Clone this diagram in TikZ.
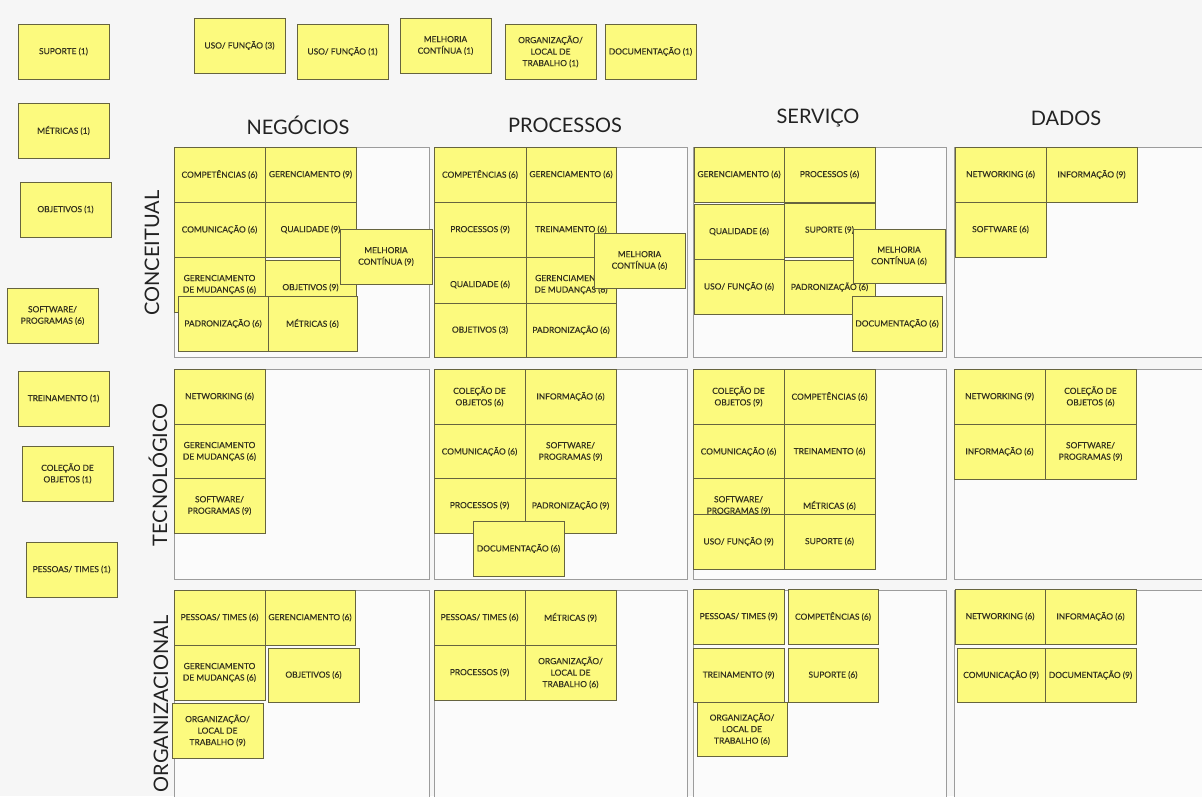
\documentclass[tikz,border=0pt]{standalone}
\usepackage{fontspec}
\setmainfont{Lato}
\newfontfamily\stickyfont{Lato}[FakeBold=0.35]
\definecolor{pagebg}{HTML}{F6F6F6}
\definecolor{cellfill}{HTML}{FBFBFB}
\definecolor{celledge}{HTML}{9C9C9C}
\definecolor{stickyfill}{HTML}{FCFA7E}
\definecolor{stickyedge}{HTML}{66643F}
\definecolor{stickytext}{HTML}{34321F}
\definecolor{headtext}{HTML}{222222}
% one sticky note: optional size keys, name, top-left corner, text
\newcommand{\stickynote}[5][]{\node[sticky,#1] (#2) at (#3,#4) {#5};}
\begin{document}
\begin{tikzpicture}[x=1pt,y=-1pt,
  sticky/.style={draw=stickyedge, line width=0.7pt, fill=stickyfill, text=stickytext,
    anchor=north west, minimum width=91pt, minimum height=55pt, inner sep=1pt,
    outer sep=0pt, align=center, font=\stickyfont\fontsize{8.4}{11.5}\selectfont},
  cellbox/.style={draw=celledge, line width=0.9pt, fill=cellfill},
  colhead/.style={font=\fontsize{20}{24}\selectfont, text=headtext},
  rowhead/.style={font=\fontsize{20}{24}\selectfont, text=headtext, rotate=90}]
\useasboundingbox (0,0) rectangle (1202,796);
\fill[pagebg] (0,0) rectangle (1202,796);

% grid of cells
\draw[cellbox] (174,147) rectangle (429,357);
\draw[cellbox] (434,147) rectangle (687,357);
\draw[cellbox] (693,147) rectangle (946,357);
\draw[cellbox] (954,147) rectangle (1204,357);
\draw[cellbox] (174,369) rectangle (429,579);
\draw[cellbox] (434,369) rectangle (687,579);
\draw[cellbox] (693,369) rectangle (946,579);
\draw[cellbox] (954,369) rectangle (1204,579);
\draw[cellbox] (174,590) rectangle (429,798);
\draw[cellbox] (434,590) rectangle (687,798);
\draw[cellbox] (693,590) rectangle (946,798);
\draw[cellbox] (954,590) rectangle (1204,798);

% column and row headings
\node[colhead] (hNeg) at (298,125) {NEGÓCIOS};
\node[colhead] (hProc) at (565,125) {PROCESSOS};
\node[colhead] (hServ) at (818,118) {SERVIÇO};
\node[colhead] (hDados) at (1066,118) {DADOS};
\node[rowhead] (hConc) at (152,253) {CONCEITUAL};
\node[rowhead] (hTec) at (158,475) {TECNOLÓGICO};
\node[rowhead] (hOrg) at (161,704) {ORGANIZACIONAL};

% loose notes along the top
\stickynote{topUsoA}{194}{18}{USO/ FUNÇÃO (3)}
\stickynote{topUsoB}{297}{24}{USO/ FUNÇÃO (1)}
\stickynote{topMelhoria}{400}{18}{MELHORIA\\CONTÍNUA (1)}
\stickynote{topOrg}{505}{24}{ORGANIZAÇÃO/\\LOCAL DE\\TRABALHO (1)}
\stickynote{topDoc}{605}{24}{DOCUMENTAÇÃO (1)}

% loose notes on the left
\stickynote{lSuporte}{18}{24}{SUPORTE (1)}
\stickynote{lMetricas}{18}{103}{MÉTRICAS (1)}
\stickynote{lObjetivos}{20}{182}{OBJETIVOS (1)}
\stickynote{lSoftware}{7}{288}{SOFTWARE/\\PROGRAMAS (6)}
\stickynote{lTreinamento}{18}{371}{TREINAMENTO (1)}
\stickynote{lColecao}{22}{446}{COLEÇÃO DE\\OBJETOS (1)}
\stickynote{lPessoas}{26}{542}{PESSOAS/ TIMES (1)}

% conceitual / negócios
\stickynote{nc1}{174}{147}{COMPETÊNCIAS (6)}
\stickynote{nc2}{265}{147}{GERENCIAMENTO (9)}
\stickynote{nc3}{174}{202}{COMUNICAÇÃO (6)}
\stickynote{nc4}{265}{202}{QUALIDADE (9)}
\stickynote{nc5}{174}{257}{GERENCIAMENTO\\DE MUDANÇAS (6)}
\stickynote{nc6}{265}{260}{OBJETIVOS (9)}
\stickynote[minimum width=90pt]{nc7}{178}{296}{PADRONIZAÇÃO (6)}
\stickynote[minimum width=89pt]{nc8}{268}{296}{MÉTRICAS (6)}
\stickynote[minimum width=92pt]{nc9}{340}{229}{MELHORIA\\CONTÍNUA (9)}

% conceitual / processos
\stickynote[minimum width=92pt]{pc1}{434}{147}{COMPETÊNCIAS (6)}
\stickynote[minimum width=90pt]{pc2}{526}{147}{GERENCIAMENTO (6)}
\stickynote[minimum width=92pt]{pc3}{434}{202}{PROCESSOS (9)}
\stickynote[minimum width=90pt]{pc4}{526}{202}{TREINAMENTO (6)}
\stickynote[minimum width=92pt]{pc5}{434}{257}{QUALIDADE (6)}
\stickynote[minimum width=90pt]{pc6}{526}{257}{GERENCIAMENTO\\DE MUDANÇAS (6)}
\stickynote[minimum width=92pt,minimum height=54pt]{pc7}{434}{303}{OBJETIVOS (3)}
\stickynote[minimum width=90pt,minimum height=54pt]{pc8}{526}{303}{PADRONIZAÇÃO (6)}
\stickynote{pc9}{594}{233}{MELHORIA\\CONTÍNUA (6)}

% conceitual / serviço
\stickynote[minimum width=90pt]{sc1}{694}{147}{GERENCIAMENTO (6)}
\stickynote{sc2}{784}{147}{PROCESSOS (6)}
\stickynote[minimum width=90pt]{sc3}{694}{204}{QUALIDADE (6)}
\stickynote[minimum height=54pt]{sc4}{784}{203}{SUPORTE (9)}
\stickynote[minimum width=90pt]{sc5}{694}{259}{USO/ FUNÇÃO (6)}
\stickynote[minimum height=54pt]{sc6}{784}{260}{PADRONIZAÇÃO (6)}
\stickynote[minimum width=92pt,minimum height=54pt]{sc7}{853}{229}{MELHORIA\\CONTÍNUA (6)}
\stickynote[minimum width=90pt]{sc8}{852}{296}{DOCUMENTAÇÃO (6)}

% conceitual / dados
\stickynote{dc1}{955}{147}{NETWORKING (6)}
\stickynote{dc2}{1046}{147}{INFORMAÇÃO (9)}
\stickynote{dc3}{955}{202}{SOFTWARE (6)}

% tecnológico / negócios
\stickynote{nt1}{174}{369}{NETWORKING (6)}
\stickynote{nt2}{174}{424}{GERENCIAMENTO\\DE MUDANÇAS (6)}
\stickynote{nt3}{174}{478}{SOFTWARE/\\PROGRAMAS (9)}

% tecnológico / processos
\stickynote{pt1}{434}{369}{COLEÇÃO DE\\OBJETOS (6)}
\stickynote{pt2}{525}{369}{INFORMAÇÃO (6)}
\stickynote{pt3}{434}{424}{COMUNICAÇÃO (6)}
\stickynote{pt4}{525}{424}{SOFTWARE/\\PROGRAMAS (9)}
\stickynote{pt5}{434}{478}{PROCESSOS (9)}
\stickynote{pt6}{525}{478}{PADRONIZAÇÃO (9)}
\stickynote{pt7}{473}{521}{DOCUMENTAÇÃO (6)}

% tecnológico / serviço
\stickynote{st1}{693}{369}{COLEÇÃO DE\\OBJETOS (9)}
\stickynote{st2}{784}{369}{COMPETÊNCIAS (6)}
\stickynote{st3}{693}{424}{COMUNICAÇÃO (6)}
\stickynote{st4}{784}{424}{TREINAMENTO (6)}
\stickynote{st5}{693}{478}{SOFTWARE/\\PROGRAMAS (9)}
\stickynote{st6}{784}{478}{MÉTRICAS (6)}
\stickynote{st7}{693}{514}{USO/ FUNÇÃO (9)}
\stickynote{st8}{784}{514}{SUPORTE (6)}

% tecnológico / dados
\stickynote{dt1}{954}{369}{NETWORKING (9)}
\stickynote{dt2}{1045}{369}{COLEÇÃO DE\\OBJETOS (6)}
\stickynote{dt3}{954}{424}{INFORMAÇÃO (6)}
\stickynote{dt4}{1045}{424}{SOFTWARE/\\PROGRAMAS (9)}

% organizacional / negócios
\stickynote{no1}{174}{590}{PESSOAS/ TIMES (6)}
\stickynote[minimum width=90pt]{no2}{265}{590}{GERENCIAMENTO (6)}
\stickynote{no3}{174}{645}{GERENCIAMENTO\\DE MUDANÇAS (6)}
\stickynote[minimum height=54pt]{no4}{268}{648}{OBJETIVOS (6)}
\stickynote{no5}{172}{703}{ORGANIZAÇÃO/\\LOCAL DE\\TRABALHO (9)}

% organizacional / processos
\stickynote{po1}{434}{590}{PESSOAS/ TIMES (6)}
\stickynote{po2}{525}{590}{MÉTRICAS (9)}
\stickynote{po3}{434}{645}{PROCESSOS (9)}
\stickynote{po4}{525}{645}{ORGANIZAÇÃO/\\LOCAL DE\\TRABALHO (6)}

% organizacional / serviço
\stickynote{so1}{693}{589}{PESSOAS/ TIMES (9)}
\stickynote[minimum width=90pt]{so2}{788}{589}{COMPETÊNCIAS (6)}
\stickynote[minimum height=54pt]{so3}{693}{648}{TREINAMENTO (9)}
\stickynote[minimum width=90pt,minimum height=54pt]{so4}{788}{648}{SUPORTE (6)}
\stickynote[minimum width=90pt,minimum height=54pt]{so5}{697}{702}{ORGANIZAÇÃO/\\LOCAL DE\\TRABALHO (6)}

% organizacional / dados
\stickynote[minimum width=90pt]{do1}{955}{589}{NETWORKING (6)}
\stickynote{do2}{1045}{589}{INFORMAÇÃO (6)}
\stickynote[minimum width=88pt,minimum height=54pt]{do3}{957}{648}{COMUNICAÇÃO (9)}
\stickynote[minimum height=54pt]{do4}{1045}{648}{DOCUMENTAÇÃO (9)}
\end{tikzpicture}
\end{document}
